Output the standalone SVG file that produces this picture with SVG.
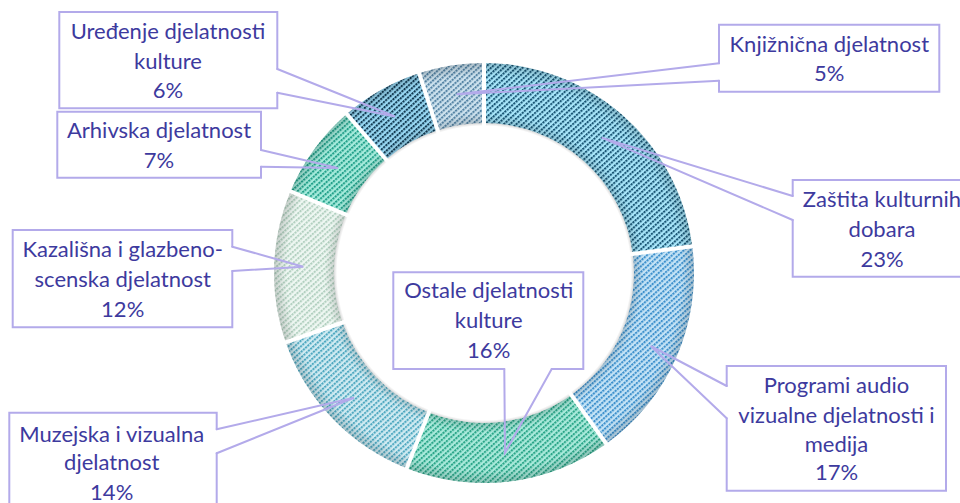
<svg xmlns="http://www.w3.org/2000/svg" width="960" height="503" viewBox="0 0 960 503">
<style>
.lbl{font-family:Lato,"Liberation Sans",sans-serif;font-size:22px;fill:#3d3a9e;text-anchor:middle}
.box{fill:#ffffff;stroke:none}
.edge{fill:none;stroke:#b3aaea;stroke-width:2;stroke-linecap:round;stroke-linejoin:miter}
.gap{stroke:#ffffff;stroke-width:4}
</style>
<defs>
<pattern id="p1" width="3" height="4.2" patternUnits="userSpaceOnUse" patternTransform="rotate(-42)"><rect width="3" height="4.2" fill="#a8e6fa"/><rect width="2.2" height="2" fill="#1a5675"/></pattern>
<pattern id="p2" width="3" height="4.2" patternUnits="userSpaceOnUse" patternTransform="rotate(-42)"><rect width="3" height="4.2" fill="#c4e3f6"/><rect width="2.2" height="2" fill="#3d90cc"/></pattern>
<pattern id="p3" width="3" height="4.2" patternUnits="userSpaceOnUse" patternTransform="rotate(-42)"><rect width="3" height="4.2" fill="#a9eadb"/><rect width="2.2" height="2" fill="#2aa588"/></pattern>
<pattern id="p4" width="3" height="4.2" patternUnits="userSpaceOnUse" patternTransform="rotate(-42)"><rect width="3" height="4.2" fill="#d0ebf2"/><rect width="2.2" height="2" fill="#4fa8c0"/></pattern>
<pattern id="p5" width="3" height="4.2" patternUnits="userSpaceOnUse" patternTransform="rotate(-42)"><rect width="3" height="4.2" fill="#eef7f2"/><rect width="2.2" height="2" fill="#b2d0c0"/></pattern>
<pattern id="p6" width="3" height="4.2" patternUnits="userSpaceOnUse" patternTransform="rotate(-42)"><rect width="3" height="4.2" fill="#a6ebdc"/><rect width="2.2" height="2" fill="#22a08a"/></pattern>
<pattern id="p7" width="3" height="4.2" patternUnits="userSpaceOnUse" patternTransform="rotate(-42)"><rect width="3" height="4.2" fill="#98d8f3"/><rect width="2.2" height="2" fill="#123a52"/></pattern>
<pattern id="p8" width="3" height="4.2" patternUnits="userSpaceOnUse" patternTransform="rotate(-42)"><rect width="3" height="4.2" fill="#cde2ee"/><rect width="2.2" height="2" fill="#5584a5"/></pattern>
<radialGradient id="shade" gradientUnits="userSpaceOnUse" cx="484" cy="273" r="210">
<stop offset="0.70" stop-color="#000" stop-opacity="0"/>
<stop offset="0.714" stop-color="#000" stop-opacity="0.14"/>
<stop offset="0.76" stop-color="#000" stop-opacity="0"/>
<stop offset="0.94" stop-color="#000" stop-opacity="0"/>
<stop offset="1" stop-color="#000" stop-opacity="0.16"/>
</radialGradient>
</defs>
<rect width="960" height="503" fill="#ffffff"/>
<g id="ring">
<path id="slice-zastita" fill="url(#p1)" d="M484,63 A210,210 0 0 1 692.30,246.32 L632.78,253.94 A150,150 0 0 0 484,123 Z"/>
<path id="slice-programi" fill="url(#p2)" d="M692.30,246.32 A210,210 0 0 1 606.25,443.75 L571.32,394.97 A150,150 0 0 0 632.78,253.94 Z"/>
<path id="slice-ostale" fill="url(#p3)" d="M606.25,443.75 A210,210 0 0 1 406.69,468.25 L428.78,412.47 A150,150 0 0 0 571.32,394.97 Z"/>
<path id="slice-muzejska" fill="url(#p4)" d="M406.69,468.25 A210,210 0 0 1 285.80,342.41 L342.43,322.58 A150,150 0 0 0 428.78,412.47 Z"/>
<path id="slice-kazalisna" fill="url(#p5)" d="M285.80,342.41 A210,210 0 0 1 290.55,191.28 L345.82,214.63 A150,150 0 0 0 342.43,322.58 Z"/>
<path id="slice-arhivska" fill="url(#p6)" d="M290.55,191.28 A210,210 0 0 1 346.78,114.03 L385.99,159.45 A150,150 0 0 0 345.82,214.63 Z"/>
<path id="slice-uredjenje" fill="url(#p7)" d="M346.78,114.03 A210,210 0 0 1 419.11,73.28 L437.65,130.34 A150,150 0 0 0 385.99,159.45 Z"/>
<path id="slice-knjiznicna" fill="url(#p8)" d="M419.11,73.28 A210,210 0 0 1 484,63 L484,123 A150,150 0 0 0 437.65,130.34 Z"/>
<circle cx="484" cy="273" r="210" fill="url(#shade)"/>
<g class="gap">
<line x1="484" y1="59" x2="484" y2="127"/>
<line x1="628.82" y1="254.45" x2="696.26" y2="245.81"/>
<line x1="568.99" y1="391.71" x2="608.57" y2="447.00"/>
<line x1="430.25" y1="408.75" x2="405.22" y2="471.97"/>
<line x1="346.21" y1="321.25" x2="282.03" y2="343.73"/>
<line x1="349.51" y1="216.19" x2="286.87" y2="189.73"/>
<line x1="388.60" y1="162.48" x2="344.17" y2="111.00"/>
<line x1="438.88" y1="134.15" x2="417.87" y2="69.47"/>
</g>
</g>
<g id="label-uredjenje">
<rect class="box" x="59.3" y="12" width="218" height="96.3"/>
<path class="edge" d="M277.3,92.7 L277.3,108.3 L59.3,108.3 L59.3,12 L277.3,12 L277.3,69"/>
<text class="lbl" x="168" y="39">Uređenje djelatnosti</text>
<text class="lbl" x="168" y="68.5">kulture</text>
<text class="lbl" x="168" y="98">6%</text>
</g>
<g id="label-arhivska">
<rect class="box" x="57.3" y="111.7" width="203.7" height="66"/>
<path class="edge" d="M261,166.7 L261,177.7 L57.3,177.7 L57.3,111.7 L261,111.7 L261,150"/>
<text class="lbl" x="159" y="138.3">Arhivska djelatnost</text>
<text class="lbl" x="159" y="167.7">7%</text>
</g>
<g id="label-kazalisna">
<rect class="box" x="12.7" y="230" width="219.6" height="97.3"/>
<path class="edge" d="M232.3,271 L232.3,327.3 L12.7,327.3 L12.7,230 L232.3,230 L232.3,246.7"/>
<text class="lbl" x="122.7" y="256.7">Kazališna i glazbeno-</text>
<text class="lbl" x="122.7" y="286.7">scenska djelatnost</text>
<text class="lbl" x="122.7" y="316.7">12%</text>
</g>
<g id="label-muzejska">
<rect class="box" x="9.3" y="412.7" width="207.4" height="107.3"/>
<path class="edge" d="M216.7,453.3 L216.7,520 L9.3,520 L9.3,412.7 L216.7,412.7 L216.7,429.3"/>
<text class="lbl" x="111.7" y="441.7">Muzejska i vizualna</text>
<text class="lbl" x="111.7" y="470">djelatnost</text>
<text class="lbl" x="111.7" y="500">14%</text>
</g>
<g id="label-knjiznicna">
<rect class="box" x="719" y="24.7" width="220.3" height="67"/>
<path class="edge" d="M719,63.3 L719,24.7 L939.3,24.7 L939.3,91.7 L719,91.7 L719,80.7"/>
<text class="lbl" x="829.3" y="51.7">Knjižnična djelatnost</text>
<text class="lbl" x="829.3" y="81">5%</text>
</g>
<g id="label-zastita">
<rect class="box" x="792.7" y="180" width="179.3" height="96.7"/>
<path class="edge" d="M792.7,196 L792.7,180 L972,180 L972,276.7 L792.7,276.7 L792.7,220"/>
<text class="lbl" x="882" y="207.3">Zaštita kulturnih</text>
<text class="lbl" x="882" y="237.3">dobara</text>
<text class="lbl" x="882" y="266.7">23%</text>
</g>
<g id="label-programi">
<rect class="box" x="726.7" y="366" width="219.3" height="124.7"/>
<path class="edge" d="M726.7,386 L726.7,366 L946,366 L946,490.7 L726.7,490.7 L726.7,418.3"/>
<text class="lbl" x="836.5" y="392.7">Programi audio</text>
<text class="lbl" x="836.5" y="422.7">vizualne djelatnosti i</text>
<text class="lbl" x="836.5" y="451.7">medija</text>
<text class="lbl" x="836.5" y="480">17%</text>
</g>
<g id="label-ostale">
<rect class="box" x="393.3" y="272.3" width="190" height="96.7"/>
<path class="edge" d="M504.3,369 L393.3,369 L393.3,272.3 L583.3,272.3 L583.3,369 L551.7,369"/>
<text class="lbl" x="488.7" y="298.3">Ostale djelatnosti</text>
<text class="lbl" x="488.7" y="328.3">kulture</text>
<text class="lbl" x="488.7" y="358.3">16%</text>
</g>
<g id="connectors" class="edge">
<path d="M277.3,69 L395,116.5 L277.3,92.7"/>
<path d="M261,150 L338,168 L261,166.7"/>
<path d="M232.3,246.7 L303.3,266.7 L232.3,271"/>
<path d="M216.7,429.3 L354,397.7 L216.7,453.3"/>
<path d="M719,63.3 L456.7,94.3 L719,80.7"/>
<path d="M792.7,196 L601.7,137.7 L792.7,220"/>
<path d="M726.7,386 L650.7,346 L726.7,418.3"/>
<path d="M504.3,369 L505,452.7 L551.7,369"/>
</g>
</svg>
